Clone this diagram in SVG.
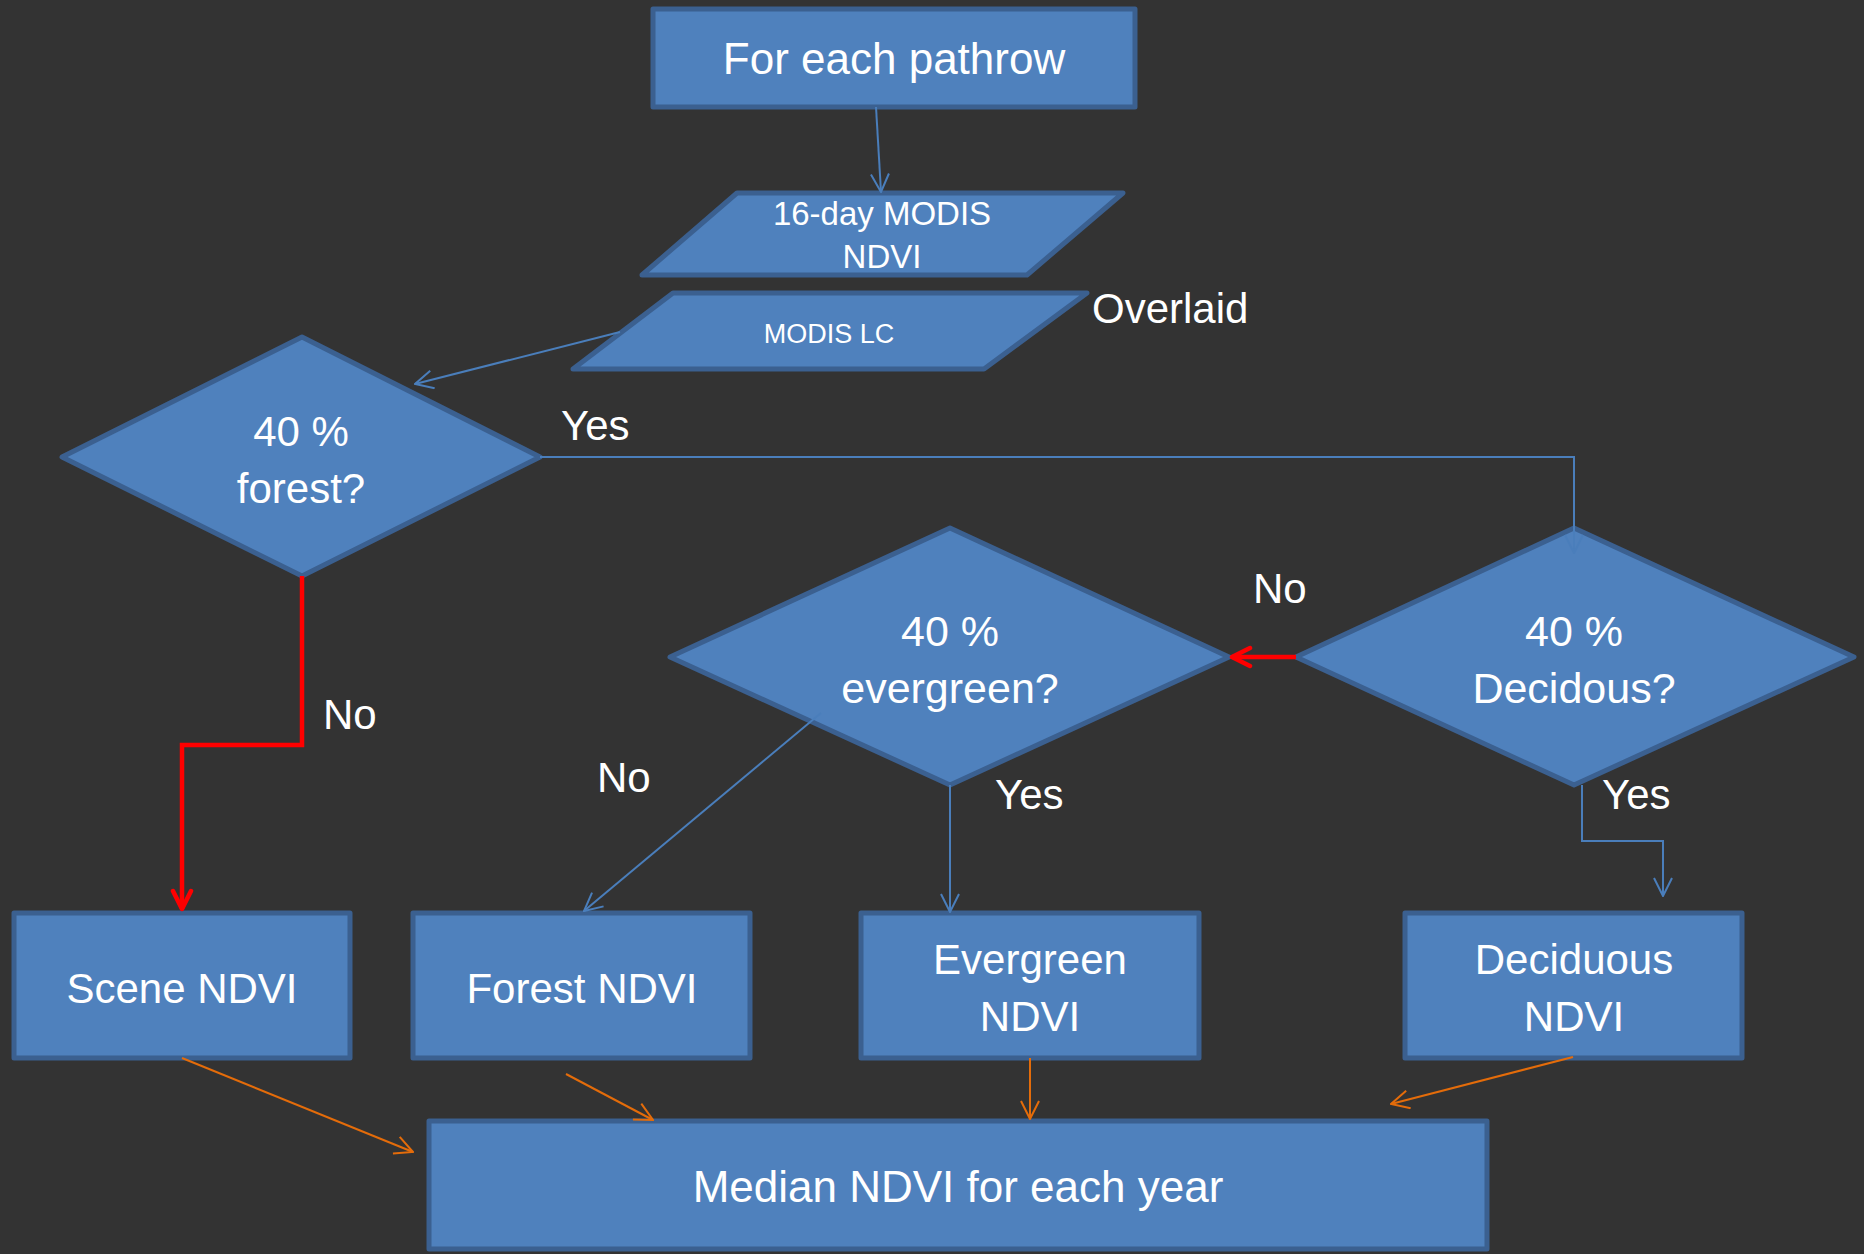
<svg xmlns="http://www.w3.org/2000/svg" width="1864" height="1254" viewBox="0 0 1864 1254">
<style>
.node{fill:#4f81bd;stroke:#3b6090;stroke-width:5;stroke-linejoin:round}
.t{fill:#fff;font-family:"Liberation Sans",Arial,sans-serif;text-anchor:middle}
.lbl{fill:#fff;font-family:"Liberation Sans",Arial,sans-serif;font-size:42px}
.blue{fill:none;stroke:#4a7ebb;stroke-width:2}
.red{fill:none;stroke:#ff0000;stroke-width:4.5}
.orange{fill:none;stroke:#e46c0a;stroke-width:2}
</style>
<defs>
<marker id="ab" viewBox="0 0 20 20" refX="19" refY="10" markerWidth="20" markerHeight="20" markerUnits="userSpaceOnUse" orient="auto"><path d="M1,1 L19,10 L1,19" fill="none" stroke="#4a7ebb" stroke-width="2"/></marker>
<marker id="ar" viewBox="0 0 24 24" refX="21" refY="12" markerWidth="24" markerHeight="24" markerUnits="userSpaceOnUse" orient="auto"><path d="M3,3 L21,12 L3,21" fill="none" stroke="#ff0000" stroke-width="4.5" stroke-linecap="round" stroke-linejoin="round"/></marker>
<marker id="ao" viewBox="0 0 20 20" refX="19" refY="10" markerWidth="20" markerHeight="20" markerUnits="userSpaceOnUse" orient="auto"><path d="M1,1 L19,10 L1,19" fill="none" stroke="#e46c0a" stroke-width="2"/></marker>
</defs>
<rect width="1864" height="1254" fill="#333333"/>

<g id="pathrow">
<rect class="node" x="653" y="9" width="482" height="98"/>
<text class="t" x="894" y="74" font-size="44">For each pathrow</text>
</g>
<g id="modis-ndvi">
<polygon class="node" points="737,193 1123,193 1027,275 642,275"/>
<text class="t" x="882" y="225" font-size="33">16-day MODIS</text>
<text class="t" x="882" y="268" font-size="33">NDVI</text>
</g>
<g id="modis-lc">
<polygon class="node" points="673,293 1087,293 984,369 573,369"/>
<text class="t" x="829" y="343" font-size="27">MODIS LC</text>
</g>
<g id="overlaid">
<text class="lbl" x="1092" y="323" font-size="44">Overlaid</text>
</g>
<g id="forest-q">
<polygon class="node" points="302,337 540,457 302,576 62,457"/>
<text class="t" x="301" y="446" font-size="42">40 %</text>
<text class="t" x="301" y="503" font-size="42">forest?</text>
</g>
<g id="evergreen-q">
<polygon class="node" points="950,528 1229,657 950,785 670,657"/>
<text class="t" x="950" y="646" font-size="43">40 %</text>
<text class="t" x="950" y="703" font-size="43">evergreen?</text>
</g>
<g id="deciduous-q">
<polygon class="node" points="1574,528 1854,657 1574,785 1296,657"/>
<text class="t" x="1574" y="646" font-size="43">40 %</text>
<text class="t" x="1574" y="703" font-size="43">Decidous?</text>
</g>
<g id="scene-ndvi">
<rect class="node" x="14" y="913" width="336" height="145"/>
<text class="t" x="182" y="1003" font-size="42">Scene NDVI</text>
</g>
<g id="forest-ndvi">
<rect class="node" x="413" y="913" width="337" height="145"/>
<text class="t" x="582" y="1003" font-size="42">Forest NDVI</text>
</g>
<g id="evergreen-ndvi">
<rect class="node" x="861" y="913" width="338" height="145"/>
<text class="t" x="1030" y="974" font-size="42">Evergreen</text>
<text class="t" x="1030" y="1031" font-size="42">NDVI</text>
</g>
<g id="deciduous-ndvi">
<rect class="node" x="1405" y="913" width="337" height="145"/>
<text class="t" x="1574" y="974" font-size="42">Deciduous</text>
<text class="t" x="1574" y="1031" font-size="42">NDVI</text>
</g>
<g id="median">
<rect class="node" x="429" y="1121" width="1058" height="128"/>
<text class="t" x="958" y="1202" font-size="44">Median NDVI for each year</text>
</g>

<g id="connectors">
<line class="blue" x1="876" y1="107" x2="881" y2="192" marker-end="url(#ab)"/>
<line class="blue" x1="620" y1="332" x2="415" y2="384" marker-end="url(#ab)"/>
<polyline class="blue" points="540,457 1574,457 1574,553" marker-end="url(#ab)"/>
<line class="red" x1="1296" y1="657" x2="1232" y2="657" marker-end="url(#ar)"/>
<polyline class="red" points="302,576 302,745 182,745 182,909" marker-end="url(#ar)"/>
<line class="blue" x1="821" y1="713" x2="584" y2="911" marker-end="url(#ab)"/>
<line class="blue" x1="950" y1="785" x2="950" y2="912" marker-end="url(#ab)"/>
<polyline class="blue" points="1582,785 1582,841 1663,841 1663,896" marker-end="url(#ab)"/>
<line class="orange" x1="182" y1="1058" x2="413" y2="1152" marker-end="url(#ao)"/>
<line class="orange" x1="566" y1="1074" x2="653" y2="1120" marker-end="url(#ao)"/>
<line class="orange" x1="1030" y1="1058" x2="1030" y2="1119" marker-end="url(#ao)"/>
<line class="orange" x1="1573" y1="1057" x2="1391" y2="1104" marker-end="url(#ao)"/>
</g>

<g id="labels">
<text class="lbl" x="561" y="440">Yes</text>
<text class="lbl" x="1253" y="603">No</text>
<text class="lbl" x="995" y="809">Yes</text>
<text class="lbl" x="1602" y="809">Yes</text>
<text class="lbl" x="597" y="792">No</text>
<text class="lbl" x="323" y="729">No</text>
</g>
</svg>
